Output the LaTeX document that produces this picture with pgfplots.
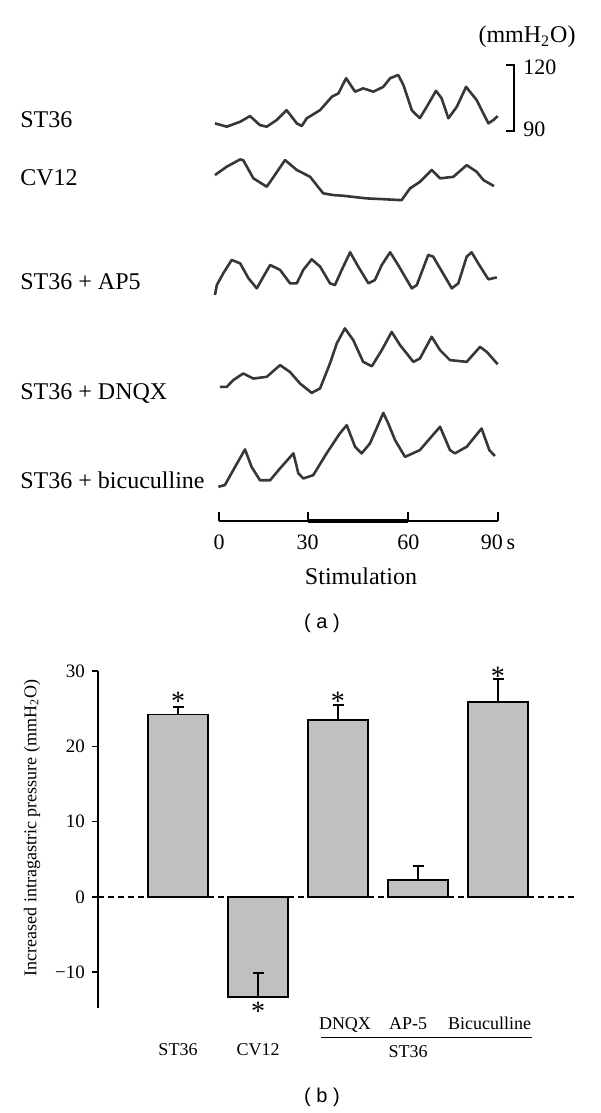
\documentclass[border=0pt]{standalone}
\usepackage{fontspec}
\setmainfont{Liberation Serif}
\newfontfamily\panelfont{Liberation Sans}
\usepackage{pgfplots}
\usepackage{pgfplotstable}
\pgfplotsset{compat=1.18}
\definecolor{trace}{RGB}{55,55,55}
\definecolor{barfill}{RGB}{192,192,192}

% Intragastric pressure traces (t in s, p in mmH2O)
\pgfplotstableread{
t p
-1.3 93.5
2.5 92.0
6.8 94.2
10.0 96.8
13.2 92.7
15.4 92.0
18.6 95.0
21.8 99.5
25.1 93.5
26.7 92.3
28.3 95.8
32.6 99.5
36.4 105.6
38.5 107.1
41.0 114.0
43.9 107.9
46.5 109.4
49.8 107.9
53.0 110.1
55.2 114.0
57.8 115.5
59.5 110.9
62.2 99.5
63.2 98.0
64.8 95.9
67.0 101.0
70.0 108.3
71.8 104.9
74.0 95.8
76.7 101.0
79.7 110.1
83.1 104.1
86.9 93.5
88.5 95.0
89.9 96.8
}\tST

\pgfplotstableread{
t p
-1.3 103.2
2.5 107.0
6.8 110.3
7.8 110.0
11.1 101.7
15.4 97.9
16.5 100.1
21.3 110.0
25.1 105.5
29.4 102.4
33.6 94.9
36.9 94.1
40.0 93.8
45.0 93.0
47.6 92.6
52.0 92.3
58.9 91.8
61.6 97.1
64.8 100.1
68.6 105.5
71.3 101.7
75.6 102.4
79.9 107.7
83.1 104.7
85.3 100.9
88.7 98.2
}\tCV

\pgfplotstableread{
t p
-1.3 89.1
-0.7 93.6
1.4 99.0
4.1 105.0
6.8 103.5
9.5 96.7
12.2 92.1
14.3 97.4
16.5 102.7
19.7 100.5
22.9 94.4
25.1 94.4
27.2 100.5
29.9 105.3
32.6 102.0
35.8 94.4
37.4 93.6
39.6 100.5
42.3 108.5
44.9 102.0
48.2 94.4
50.3 95.9
52.5 102.7
55.2 108.5
57.8 102.7
62.2 92.1
63.8 93.6
67.5 107.3
69.1 106.5
71.3 101.2
75.1 92.1
77.2 94.4
79.9 106.5
81.5 108.5
83.6 103.5
86.9 96.2
89.6 97.1
}\tAP

\pgfplotstableread{
t p
0.3 94.2
2.5 94.2
4.6 97.3
7.8 100.3
11.1 98.0
15.4 98.8
19.7 104.1
22.9 101.0
26.1 95.8
29.9 91.5
32.6 93.5
35.8 104.9
38.0 114.0
40.6 120.8
43.3 115.5
46.5 105.6
49.3 103.6
52.5 110.9
55.7 119.2
58.4 113.2
62.7 105.6
64.8 107.1
68.6 117.0
71.3 110.9
74.5 106.4
79.9 105.6
84.2 112.4
86.4 110.1
89.9 104.5
}\tDN

\pgfplotstableread{
t p
-0.2 91.5
1.9 92.3
5.2 100.6
8.4 108.5
10.5 100.6
13.2 94.5
16.5 94.5
19.7 99.9
24.0 106.7
25.6 97.6
27.2 95.3
30.4 96.8
34.7 106.7
39.0 115.8
41.2 119.5
43.9 109.7
46.0 106.7
48.7 111.2
53.0 125.1
54.6 120.3
56.8 112.7
60.0 105.1
64.8 108.2
71.3 118.8
74.5 108.2
76.1 106.7
79.9 109.7
84.7 118.0
87.2 108.2
89.0 105.5
}\tBI

\begin{document}
\begin{tikzpicture}
\useasboundingbox (0,0) rectangle (300pt,556.5pt);

% ---------------- panel (a) ----------------
\begin{axis}[
  at={(109.5pt,296.15pt)}, anchor=south west,
  scale only axis, width=139.5pt, height=230.35pt,
  xmin=0, xmax=90, ymin=-87.1, ymax=122.3,
  axis x line=bottom, axis y line=none,
  x axis line style={-, line width=1pt, black},
  xtick={0,28.6,61.1,90}, xticklabels={0,30,60,90\,s},
  tick align=inside, major tick length=4.5pt,
  x tick style={line width=1pt, black},
  xticklabel style={font=\fontsize{11}{13}\selectfont, yshift=-3.5pt},
  clip=false,
  tr/.style={trace, line width=1.3pt, line join=round, mark=none},
]
\addplot[tr] table[x=t, y expr=\thisrow{p}] {\tST};
\addplot[tr] table[x=t, y expr=\thisrow{p}-33.2] {\tCV};
\addplot[tr] table[x=t, y expr=\thisrow{p}-73.6] {\tAP};
\addplot[tr] table[x=t, y expr=\thisrow{p}-120.5] {\tDN};
\addplot[tr] table[x=t, y expr=\thisrow{p}-163.2] {\tBI};
\draw[line width=2pt, black] (axis cs:28.6,-87.1) -- (axis cs:61.1,-87.1);
\draw[line width=0.8pt, black] (axis cs:92.6,120) -- (axis cs:95.2,120) -- (axis cs:95.2,90) -- (axis cs:92.6,90);
\end{axis}

% ---------------- panel (b) ----------------
\begin{axis}[
  at={(49pt,52.5pt)}, anchor=south west,
  scale only axis, width=240pt, height=168.5pt,
  xmin=0, xmax=6, ymin=-14.74, ymax=30,
  axis x line=none, axis y line=left,
  y axis line style={-, line width=0.8pt, black},
  ytick={-10,0,10,20,30}, yticklabels={−10,0,10,20,30},
  tick align=outside, major tick length=3pt,
  y tick style={line width=0.8pt, black},
  yticklabel style={font=\fontsize{9.5}{11}\selectfont},
  ylabel={Increased intragastric pressure (mmH\textsubscript{2}O)},
  ylabel style={font=\fontsize{9}{11}\selectfont, at={(axis description cs:-0.1375,0.534)}, anchor=center},
  clip=false,
]
\addplot[ybar, bar width=30pt, fill=barfill, draw=black, line width=0.8pt,
  error bars/.cd, y dir=plus, y explicit, error mark=-,
  error bar style={line width=0.8pt, black},
  error mark options={rotate=90, line width=0.8pt, mark size=2.75pt, black}]
  coordinates {(1,24.2) +- (0,1.0) (2,-13.3) +- (0,3.2) (3,23.5) +- (0,2.0) (4,2.26) +- (0,1.85) (5,25.9) +- (0,3.0)};
\draw[black, line width=0.7pt, dash pattern=on 3pt off 2pt] (axis cs:0,0) -- (axis cs:6,0);
\node[font=\fontsize{14}{14}\selectfont, anchor=base, inner sep=0pt] at (axis cs:1,24.7) {*};
\node[font=\fontsize{14}{14}\selectfont, anchor=base, inner sep=0pt] at (axis cs:3,24.8) {*};
\node[font=\fontsize{14}{14}\selectfont, anchor=base, inner sep=0pt] at (axis cs:5,28.1) {*};
\node[font=\fontsize{14}{14}\selectfont, anchor=base, inner sep=0pt] at (axis cs:2,-16.4) {*};
\end{axis}

% ---------------- text in pixel coordinates ----------------
\begin{scope}[x=0.5pt, y=-0.5pt, yshift=556.5pt, every node/.style={inner sep=0pt}]
\node[anchor=base west, font=\fontsize{12}{14}\selectfont] at (20,127.3) {ST36};
\node[anchor=base west, font=\fontsize{12}{14}\selectfont] at (20,185.7) {CV12};
\node[anchor=base west, font=\fontsize{12}{14}\selectfont] at (20,289.3) {ST36 + AP5};
\node[anchor=base west, font=\fontsize{12}{14}\selectfont] at (20,399.3) {ST36 + DNQX};
\node[anchor=base west, font=\fontsize{12}{14}\selectfont] at (20,488.3) {ST36 + bicuculline};
\node[anchor=base, font=\fontsize{12}{14}\selectfont] at (527,43) {(mmH\textsubscript{2}O)};
\node[anchor=base west, font=\fontsize{11}{13}\selectfont] at (523,75) {120};
\node[anchor=base west, font=\fontsize{11}{13}\selectfont] at (523,137) {90};
\node[anchor=base, font=\fontsize{12}{14}\selectfont] at (361,585) {Stimulation};
\node[anchor=center, font=\panelfont\fontsize{10}{12}\selectfont] at (322,623) {( a )};
\node[anchor=base, font=\fontsize{9}{11}\selectfont] at (178,1056) {ST36};
\node[anchor=base, font=\fontsize{9}{11}\selectfont] at (258,1056) {CV12};
\node[anchor=base, font=\fontsize{9}{11}\selectfont] at (345,1030) {DNQX};
\node[anchor=base, font=\fontsize{9}{11}\selectfont] at (408,1030) {AP-5};
\node[anchor=base, font=\fontsize{9}{11}\selectfont] at (489.5,1030) {Bicuculline};
\draw[black, line width=0.7pt] (321,1037.3) -- (532,1037.3);
\node[anchor=base, font=\fontsize{9}{11}\selectfont] at (408,1058) {ST36};
\node[anchor=center, font=\panelfont\fontsize{10}{12}\selectfont] at (322,1097) {( b )};
\end{scope}
\end{tikzpicture}
\end{document}
